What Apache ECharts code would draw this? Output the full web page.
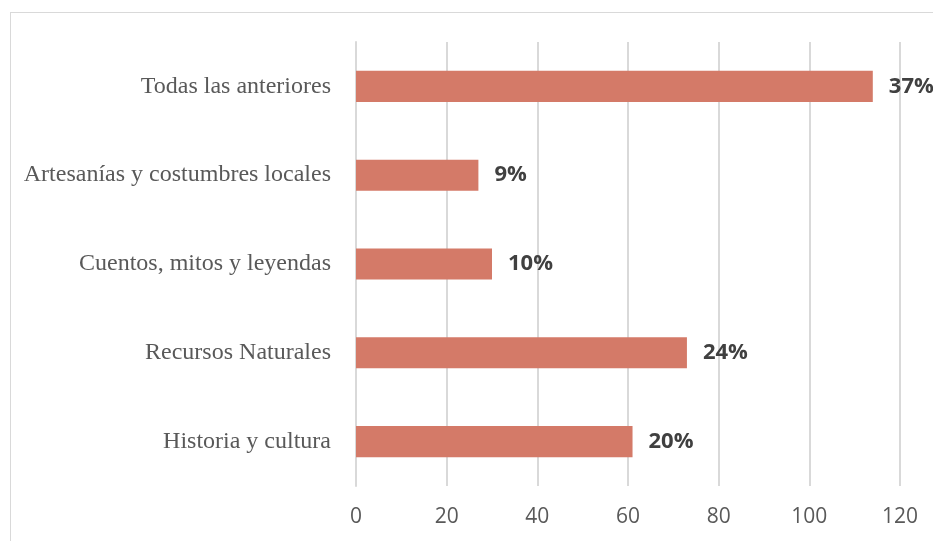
<!DOCTYPE html>
<html>
<head>
<meta charset="utf-8">
<script src="https://cdn.jsdelivr.net/npm/echarts@6/dist/echarts.min.js"></script>
<style>
html,body{margin:0;padding:0;background:#fff;overflow:hidden;}
#frame{position:absolute;left:10px;top:12px;width:1000px;height:600px;border:1px solid #d9d9d9;box-sizing:border-box;}
#chart{position:absolute;left:0;top:0;width:933px;height:541px;}
</style>
</head>
<body>
<div id="frame"></div>
<div id="chart"></div>
<script>
const categories = ["Historia y cultura", "Recursos Naturales", "Cuentos, mitos y leyendas", "Artesanías y costumbres locales", "Todas las anteriores"];
const values = [61, 73, 30, 27, 114];
const percentLabels = ["20%", "24%", "10%", "9%", "37%"];
const xTicks = [0, 20, 40, 60, 80, 100, 120];

const chart = echarts.init(document.getElementById('chart'), null, {renderer: 'canvas'});
chart.setOption({
  backgroundColor: 'transparent',
  animation: false,
  grid: {left: 356, right: 33, top: 42, bottom: 55, containLabel: false},
  xAxis: {
    type: 'value',
    min: xTicks[0],
    max: xTicks[xTicks.length - 1],
    interval: 20,
    axisLine: {show: false},
    axisTick: {show: false},
    splitLine: {show: true, lineStyle: {color: '#d9d9d9', width: 2}},
    axisLabel: {color: '#595959', fontFamily: 'Open Sans', fontSize: 21, margin: 21}
  },
  yAxis: {
    type: 'category',
    data: categories,
    axisLine: {show: true, lineStyle: {color: '#d9d9d9', width: 2}},
    axisTick: {show: false},
    axisLabel: {color: '#595959', fontFamily: 'Liberation Serif', fontSize: 24, margin: 25}
  },
  series: [{
    type: 'bar',
    data: values,
    barWidth: '35%',
    itemStyle: {color: '#d47a68'},
    label: {
      show: true,
      position: 'right',
      distance: 16,
      formatter: p => percentLabels[p.dataIndex],
      color: '#404040',
      fontFamily: 'Open Sans',
      fontWeight: 'bold',
      fontSize: 22
    }
  }]
});
</script>
</body>
</html>
